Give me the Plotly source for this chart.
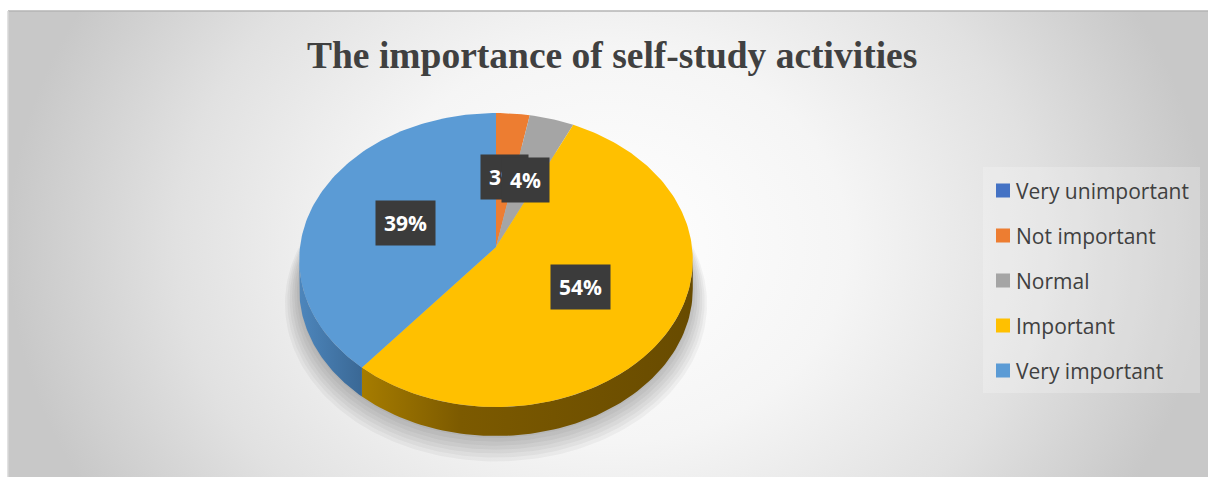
import numpy as np
import plotly.graph_objects as go

# ---------------- data ----------------
categories = ["Very unimportant", "Not important", "Normal", "Important", "Very important"]
values = [0, 3, 4, 54, 39]
labels = ["", "3%", "4%", "54%", "39%"]
colors = ["#4472C4", "#ED7D31", "#A5A5A5", "#FFC000", "#5B9BD5"]
title_text = "The importance of self-study activities"

W, H = 1208, 477

# ---------------- 3D pie projection (perspective, tilted) ----------------
CX, CY = 496.0, 247.0      # projected pie centre
R, RT, P = 196.0, 145.8, 0.0884
DEPTH = 29.0


def proj(theta_deg, f=1.0, dz=0.0):
    th = np.radians(np.asarray(theta_deg, dtype=float))
    u = f * np.sin(th)
    v = f * np.cos(th)
    s = 1.0 / (1.0 + P * v)
    return CX + R * u * s, CY - RT * v * s + dz


total = float(sum(values))
cum = np.concatenate([[0.0], np.cumsum(values)]) / total * 360.0
VIS_A = np.degrees(np.arccos(-P))          # silhouette start (right)
VIS_B = 360.0 - VIS_A                      # silhouette end (left)

fig = go.Figure()

# background panel with radial gradient (bounding box taller than view -> mostly horizontal falloff)
fig.add_trace(go.Scatter(
    x=[8, W, W, 8, 8], y=[-250, -250, 740, 740, -250], mode="lines",
    line=dict(width=0), fill="toself", hoverinfo="skip", showlegend=False,
    fillgradient=dict(type="radial",
                      colorscale=[[0, "#ffffff"], [0.4, "#f5f5f5"],
                                  [0.72, "#e1e1e1"], [1, "#c8c8c8"]]),
))

# soft shadow under the pie
tt = np.linspace(0, 360, 241)
for k in range(7):
    sx, sy = proj(tt, f=1.0 + 0.012 * k, dz=DEPTH + 2 + 1.8 * k)
    fig.add_trace(go.Scatter(x=sx, y=sy, mode="lines", line=dict(width=0),
                             fill="toself", fillcolor="rgba(0,0,0,0.04)",
                             hoverinfo="skip", showlegend=False))

# side walls (front visible part)
wall_scales = {
    3: [[0, "#a67c00"], [0.3, "#7c5a00"], [1, "#684b00"]],
    4: [[0, "#4d86bc"], [1, "#3a6895"]],
    1: [[0, "#b05a20"], [1, "#a05020"]],
    2: [[0, "#7a7a7a"], [1, "#707070"]],
    0: [[0, "#30558f"], [1, "#30558f"]],
}
for i, v in enumerate(values):
    a, b = max(cum[i], VIS_A), min(cum[i + 1], VIS_B)
    if v <= 0 or b <= a:
        continue
    th = np.linspace(a, b, 80)
    x1, y1 = proj(th)
    x2, y2 = proj(th[::-1], dz=DEPTH)
    fig.add_trace(go.Scatter(
        x=np.concatenate([x1, x2, x1[:1]]), y=np.concatenate([y1, y2, y1[:1]]),
        mode="lines", line=dict(width=0), fill="toself",
        fillgradient=dict(type="horizontal", colorscale=wall_scales[i]),
        hoverinfo="skip", showlegend=False))

# top faces
for i, v in enumerate(values):
    if v <= 0:
        continue
    th = np.linspace(cum[i], cum[i + 1], max(4, int(v * 3)))
    ax, ay = proj(th)
    fig.add_trace(go.Scatter(
        x=np.concatenate([[CX], ax, [CX]]), y=np.concatenate([[CY], ay, [CY]]),
        mode="lines", line=dict(width=0), fill="toself", fillcolor=colors[i],
        hoverinfo="skip", showlegend=False))

# legend panel
LX0, LX1, LY0, LY1 = 983, 1200, 167, 393
fig.add_trace(go.Scatter(
    x=[LX0, LX1, LX1, LX0, LX0], y=[LY0, LY0, LY1, LY1, LY0], mode="lines",
    line=dict(width=0), fill="toself", fillcolor="rgba(255,255,255,0.22)",
    hoverinfo="skip", showlegend=False))

leg_y = [190.5 + 45 * k for k in range(len(categories))]
fig.add_trace(go.Scatter(
    x=[1003] * len(categories), y=leg_y, mode="markers",
    marker=dict(symbol="square", size=14, color=colors, line=dict(width=0)),
    hoverinfo="skip", showlegend=False))
for k, c in enumerate(categories):
    fig.add_annotation(x=1014, y=leg_y[k], text=c, showarrow=False,
                       xanchor="left", yanchor="middle",
                       font=dict(family="Open Sans", size=21, color="#404040"))

# data labels (the 4% box overlaps the 3% box, as in the original)
for i, v in enumerate(values):
    if v <= 0:
        continue
    mid = (cum[i] + cum[i + 1]) / 2.0
    lx, ly = proj(mid, f=0.5)
    fig.add_annotation(x=float(lx), y=float(ly), text=labels[i],
                       showarrow=False, xanchor="center", yanchor="middle",
                       bgcolor="#3b3b3b", borderpad=8,
                       font=dict(family="Open Sans", size=21, color="white",
                                 weight="bold"))

# title
fig.add_annotation(x=612, y=55, text=title_text, showarrow=False,
                   xanchor="center", yanchor="middle",
                   font=dict(family="Liberation Serif", size=37.5, color="#404040",
                             weight="bold"))

fig.update_layout(
    width=W, height=H, margin=dict(l=0, r=0, t=0, b=0),
    paper_bgcolor="white", plot_bgcolor="white",
    xaxis=dict(range=[0, W], visible=False, fixedrange=True),
    yaxis=dict(range=[H, 0], visible=False, fixedrange=True),
    shapes=[
        dict(type="rect", x0=0, x1=W, y0=0, y1=11, fillcolor="white", line=dict(width=0), layer="above"),
        dict(type="rect", x0=0, x1=8, y0=0, y1=H, fillcolor="white", line=dict(width=0), layer="above"),
        dict(type="line", x0=8, x1=W, y0=11, y1=11, line=dict(color="#b4b4b4", width=1.5), layer="above"),
        dict(type="line", x0=8, x1=8, y0=11, y1=H, line=dict(color="#d8d8d8", width=1.5), layer="above"),
    ],
)

fig.write_html("out.html")
